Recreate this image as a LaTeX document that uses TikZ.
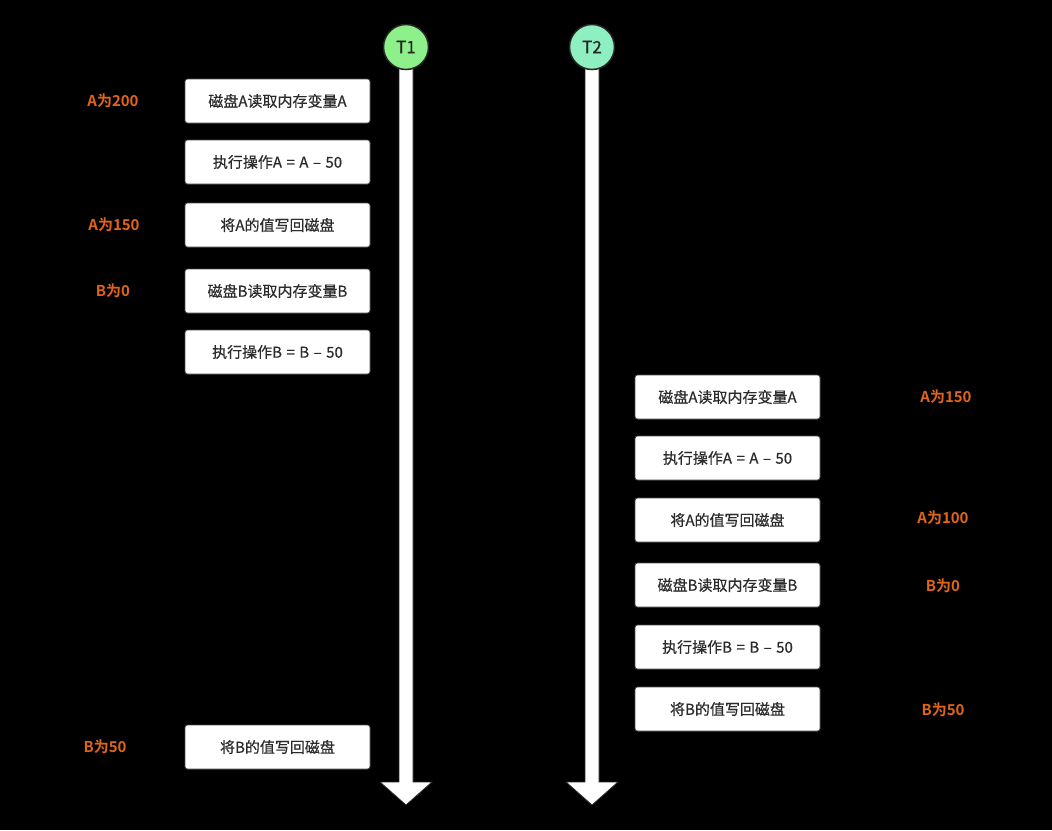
\documentclass[tikz,border=0pt]{standalone}
\usepackage{fontspec}
\setmainfont{Noto Sans CJK SC}
\newfontfamily\cjkb{Noto Sans CJK SC Bold}
\newfontfamily\cjkm[FakeBold=0.5]{Noto Sans CJK SC}
\definecolor{lblorange}{HTML}{E0651A}
\definecolor{tonegreen}{HTML}{8EF08A}
\definecolor{ttwogreen}{HTML}{8EF0C0}
\definecolor{boxtext}{HTML}{2B2B2B}
\newcommand{\opgap}{\hspace{0.3em}}
\tikzset{
  stepbox/.style={draw=black!70, line width=0.8pt, fill=white, rounded corners=2.5pt,
    minimum width=185pt, minimum height=44pt, inner sep=0pt, text=boxtext,
    font=\cjkm\fontsize{15pt}{17pt}\selectfont},
  vallabel/.style={text=lblorange, font=\cjkb\fontsize{15pt}{17pt}\selectfont, inner sep=0pt},
  tcircle/.style={circle, draw=black!85, line width=1.5pt, minimum size=45pt, inner sep=0pt,
    font=\cjkm\fontsize{17pt}{19pt}\selectfont, text=black!85},
  timeline/.style={fill=white, draw=black!85, line width=0.8pt, line join=miter}
}
\begin{document}
\begin{tikzpicture}[x=1pt,y=-1pt]
\fill[black] (0,0) rectangle (1052,830);
\useasboundingbox (0,0) rectangle (1052,830);
% timelines
\coordinate (e1) at (406,805);
\coordinate (e2) at (592,805);
\draw[timeline] (399,66) -- (399,782) -- (380,782) -- (e1) -- (432,782) -- (413,782) -- (413,66) -- cycle;
\draw[timeline] (585,66) -- (585,782) -- (566,782) -- (e2) -- (618,782) -- (599,782) -- (599,66) -- cycle;
\node[tcircle, fill=tonegreen] (t1) at (406,47) {T1};
\node[tcircle, fill=ttwogreen] (t2) at (592,47) {T2};
% T1 steps
\node[stepbox] (a1) at (277.5,101) {磁盘A读取内存变量A};
\node[stepbox] (a2) at (277.5,162) {执行操作A\opgap=\opgap A\opgap–\opgap50};
\node[stepbox] (a3) at (277.5,225) {将A的值写回磁盘};
\node[stepbox] (a4) at (277.5,291) {磁盘B读取内存变量B};
\node[stepbox] (a5) at (277.5,352) {执行操作B\opgap=\opgap B\opgap–\opgap50};
\node[stepbox] (a6) at (277.5,747) {将B的值写回磁盘};
% T2 steps
\node[stepbox] (b1) at (727.5,397) {磁盘A读取内存变量A};
\node[stepbox] (b2) at (727.5,458) {执行操作A\opgap=\opgap A\opgap–\opgap50};
\node[stepbox] (b3) at (727.5,520) {将A的值写回磁盘};
\node[stepbox] (b4) at (727.5,585) {磁盘B读取内存变量B};
\node[stepbox] (b5) at (727.5,647) {执行操作B\opgap=\opgap B\opgap–\opgap50};
\node[stepbox] (b6) at (727.5,709) {将B的值写回磁盘};
% labels
\node[vallabel] (la1) at (113,101) {A为200};
\node[vallabel] (la3) at (114,225) {A为150};
\node[vallabel] (la4) at (113,291) {B为0};
\node[vallabel] (la6) at (105,747) {B为50};
\node[vallabel] (lb1) at (946,397) {A为150};
\node[vallabel] (lb3) at (943,518) {A为100};
\node[vallabel] (lb4) at (943,586) {B为0};
\node[vallabel] (lb6) at (943,710) {B为50};
\end{tikzpicture}
\end{document}
